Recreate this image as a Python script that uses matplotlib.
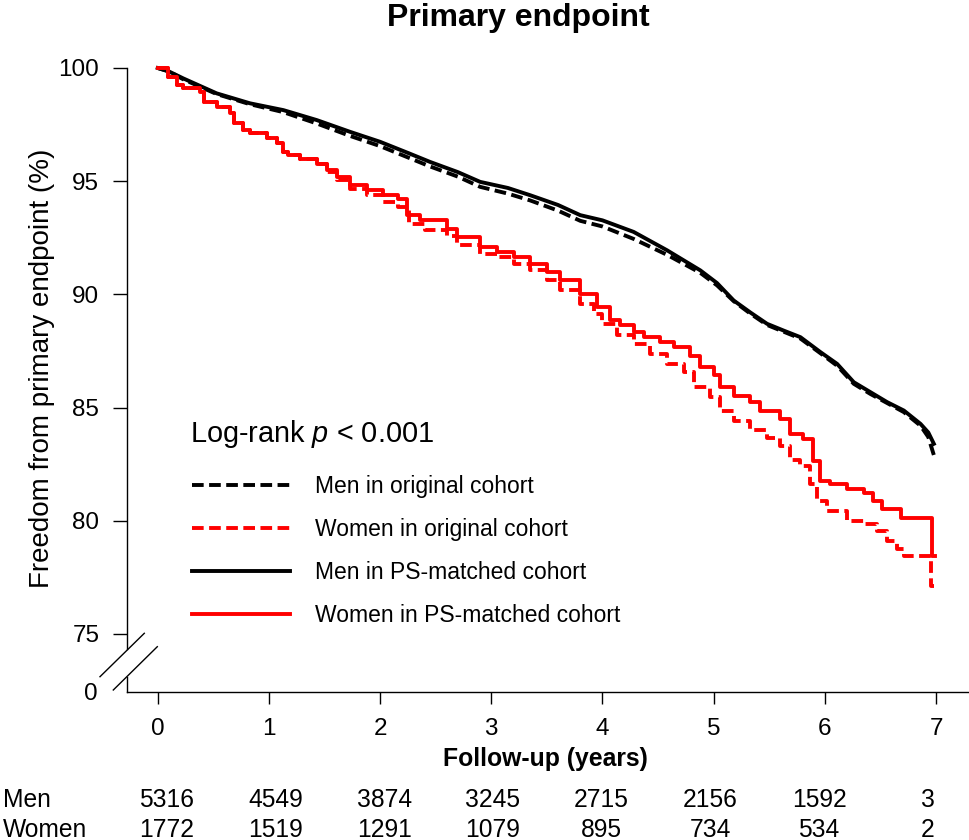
import matplotlib.pyplot as plt
from matplotlib.lines import Line2D
from matplotlib.transforms import blended_transform_factory

plt.rcParams['font.family'] = ['Liberation Sans', 'DejaVu Sans']
plt.rcParams['mathtext.fontset'] = 'custom'
plt.rcParams['mathtext.rm'] = 'Liberation Sans'
plt.rcParams['mathtext.it'] = 'Liberation Sans:italic'

# survival curves (years, % free from primary endpoint)
men_ps_t = [0, 0.1, 0.23, 0.53, 0.83, 1.13, 1.43, 1.73, 2.0, 2.25, 2.45, 2.7, 2.9, 3.15,
            3.35, 3.6, 3.8, 4.0, 4.28, 4.58, 4.88, 5.03, 5.18, 5.33, 5.48, 5.63, 5.78,
            5.96, 6.11, 6.26, 6.41, 6.56, 6.71, 6.86, 6.93, 6.98]
men_ps_s = [100, 99.85, 99.54, 98.88, 98.44, 98.14, 97.7, 97.18, 96.74, 96.25, 95.85, 95.4,
            94.97, 94.7, 94.38, 93.95, 93.5, 93.27, 92.76, 91.95, 91.06, 90.5, 89.73, 89.2,
            88.7, 88.4, 88.11, 87.45, 86.93, 86.12, 85.68, 85.24, 84.87, 84.28, 83.9, 83.4]
men_orig_s = [100, 99.85, 99.5, 98.85, 98.4, 98.05, 97.55, 97.0, 96.55, 96.05, 95.65, 95.2,
              94.75, 94.45, 94.15, 93.7, 93.25, 93.0, 92.45, 91.75, 90.95, 90.4, 89.7, 89.15,
              88.65, 88.35, 88.05, 87.4, 86.85, 86.05, 85.6, 85.2, 84.8, 84.2, 83.7, 82.9]

women_ps_t = [0, 0.09, 0.17, 0.23, 0.38, 0.42, 0.53, 0.65, 0.69, 0.77, 0.83, 0.98, 1.07, 1.13,
              1.17, 1.28, 1.43, 1.52, 1.61, 1.73, 1.88, 2.03, 2.16, 2.24, 2.36, 2.6, 2.69,
              2.9, 3.05, 3.2, 3.35, 3.5, 3.62, 3.8, 3.95, 4.07, 4.16, 4.28, 4.37, 4.52, 4.64,
              4.79, 4.88, 5.0, 5.06, 5.18, 5.33, 5.42, 5.6, 5.69, 5.8, 5.89, 5.96, 6.05, 6.2,
              6.35, 6.43, 6.51, 6.68, 6.96, 6.99]
women_ps_s = [100, 99.6, 99.25, 99.1, 98.95, 98.5, 98.29, 98.0, 97.57, 97.26, 97.12, 96.89,
              96.67, 96.3, 96.15, 96.0, 95.78, 95.49, 95.19, 94.82, 94.6, 94.38, 94.2, 93.5,
              93.27, 92.9, 92.54, 92.1, 91.87, 91.65, 91.36, 90.99, 90.62, 90.03, 89.44, 88.85,
              88.63, 88.33, 88.11, 87.89, 87.67, 87.3, 86.78, 86.42, 85.9, 85.53, 85.24, 84.87,
              84.5, 83.85, 83.63, 82.65, 81.77, 81.64, 81.42, 81.24, 80.88, 80.53, 80.13,
              78.45, 78.45]

women_orig_t = [0, 0.09, 0.17, 0.23, 0.38, 0.42, 0.53, 0.65, 0.69, 0.77, 0.83, 0.98, 1.07, 1.13,
                1.17, 1.28, 1.43, 1.52, 1.61, 1.73, 1.88, 2.03, 2.16, 2.26, 2.4, 2.6, 2.69,
                2.9, 3.05, 3.2, 3.35, 3.5, 3.62, 3.8, 3.92, 4.0, 4.13, 4.28, 4.43, 4.58, 4.73,
                4.82, 4.97, 5.06, 5.18, 5.33, 5.48, 5.6, 5.69, 5.78, 5.87, 5.93, 6.02, 6.2,
                6.35, 6.47, 6.56, 6.65, 6.71, 6.95, 6.98]
women_orig_s = [100, 99.6, 99.25, 99.1, 98.95, 98.5, 98.29, 98.0, 97.57, 97.26, 97.12, 96.89,
                96.67, 96.3, 96.15, 96.0, 95.75, 95.4, 95.05, 94.65, 94.4, 94.1, 93.86, 93.13,
                92.85, 92.6, 92.17, 91.8, 91.65, 91.36, 91.06, 90.62, 90.18, 89.59, 89.15, 88.7,
                88.19, 87.82, 87.38, 86.93, 86.56, 85.9, 85.46, 84.87, 84.4, 84.0, 83.65, 83.3,
                82.7, 82.43, 81.64, 80.88, 80.44, 80.0, 79.87, 79.56, 79.12, 78.76, 78.45,
                77.12, 77.12]

years = [0, 1, 2, 3, 4, 5, 6, 7]
men_at_risk = [5316, 4549, 3874, 3245, 2715, 2156, 1592, 3]
women_at_risk = [1772, 1519, 1291, 1079, 895, 734, 534, 2]

labels = ['Men in original cohort', 'Women in original cohort',
          'Men in PS-matched cohort', 'Women in PS-matched cohort']

W, H = 970, 840
def px(x, y):
    return x / W, 1 - y / H

fig = plt.figure(figsize=(9.7, 8.4), dpi=100)
ax = fig.add_axes([127 / W, 1 - 691.7 / H, 1 - 127 / W, (691.7 - 56) / H])

lw = 2.8
dash = (3.0, 1.4)
ax.plot(men_ps_t, men_orig_s, color='black', lw=lw, dashes=dash)
ax.plot(women_orig_t, women_orig_s, color='#ff0000', lw=lw, dashes=dash, drawstyle='steps-post')
ax.plot(men_ps_t, men_ps_s, color='black', lw=lw)
ax.plot(women_ps_t, women_ps_s, color='#ff0000', lw=lw, drawstyle='steps-post')

ax.set_xlim(-0.276, 7.305)
ax.set_ylim(72.45, 100.53)

for s in ['top', 'right', 'left']:
    ax.spines[s].set_visible(False)
ax.spines['bottom'].set_linewidth(1)

ax.set_xticks(years)
ax.tick_params(axis='x', length=8.6, width=1, pad=10, labelsize=17.5)
ax.set_yticks([75, 80, 85, 90, 95, 100])
ax.tick_params(axis='y', which='major', length=10, width=1, pad=9.9, labelsize=17.5)
ax.set_yticks([72.45], labels=['0'], minor=True)
ax.tick_params(axis='y', which='minor', length=0, pad=21, labelsize=17.5)

# broken y axis
yt = ax.get_yaxis_transform()
ax.plot([0, 0], [100, 74.35], color='black', lw=1, transform=yt, clip_on=False)
ax.plot([0, 0], [73.1, 72.45], color='black', lw=1, transform=yt, clip_on=False)
for (x0, y0), (x1, y1) in [((100, 676.7), (144.3, 633.3)), ((113.3, 690), (157.3, 646.7))]:
    a, b = px(x0, y0), px(x1, y1)
    fig.add_artist(Line2D([a[0], b[0]], [a[1], b[1]], color='black', lw=1))

handles = [Line2D([], [], color='black', lw=lw, dashes=dash),
           Line2D([], [], color='#ff0000', lw=lw, dashes=dash),
           Line2D([], [], color='black', lw=lw),
           Line2D([], [], color='#ff0000', lw=lw)]
fig.legend(handles, labels, loc='center left', bbox_to_anchor=px(192, 551), frameon=False,
           fontsize=16.5, handlelength=4.26, handletextpad=1.09, labelspacing=0.86,
           borderpad=0, borderaxespad=0)

fig.text(*px(190, 442), 'Log-rank $p$ < 0.001', fontsize=20.8, va='baseline')
fig.text(*px(518, 18), 'Primary endpoint', fontsize=23, fontweight='bold', ha='center', va='center')
fig.text(*px(42, 368), 'Freedom from primary endpoint (%)', fontsize=20, rotation=90,
         ha='center', va='center')
fig.text(*px(545.6, 766), 'Follow-up (years)', fontsize=17.8, fontweight='bold',
         ha='center', va='baseline')

# numbers at risk
tr = blended_transform_factory(ax.transData, fig.transFigure)
fig.text(*px(3, 806.7), 'Men', fontsize=17.7, va='baseline')
fig.text(*px(3, 836.7), 'Women', fontsize=17.7, va='baseline')
for t, m, w in zip(years, men_at_risk, women_at_risk):
    xpos = 0.08 + 0.978 * t
    ax.text(xpos, px(0, 806.7)[1], str(m), transform=tr, fontsize=17.7, ha='center', va='baseline')
    ax.text(xpos, px(0, 836.7)[1], str(w), transform=tr, fontsize=17.7, ha='center', va='baseline')

fig.savefig('out.png', dpi=100)
